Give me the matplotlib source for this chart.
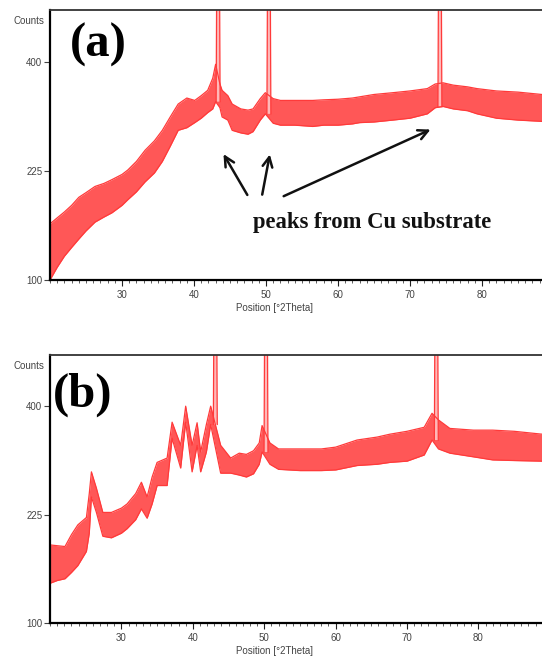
import numpy as np
import matplotlib
matplotlib.use("Agg")
import matplotlib.pyplot as plt
from matplotlib.ticker import FixedLocator, MultipleLocator

# --- data (counts, envelope of the noisy trace) ---
two_theta_a = [20.0, 21.0, 22.0, 23.0, 24.0, 25.0, 26.25, 27.5, 28.6, 30.0,
               30.8, 32.0, 33.2, 34.5, 35.6, 36.7, 37.8, 39.0, 40.1, 41.0,
               41.9, 42.6, 43.0, 43.6, 43.9, 44.7, 45.3, 46.5, 47.5, 48.2,
               49.2, 49.9, 51.0, 52.0, 54.0, 56.5, 58.0, 60.0, 62.0, 63.0,
               65.0, 67.6, 70.0, 72.4, 73.5, 74.6, 76.0, 78.0, 79.3, 82.0,
               85.0, 88.3]
lower_a = [100, 112, 123, 132, 141, 150, 160, 166, 171, 180,
           187, 197, 210, 222, 238, 260, 284, 288, 296, 303,
           312, 318, 330, 320, 305, 300, 284, 280, 278, 282,
           300, 310, 295, 292, 292, 290, 292, 292, 294, 296,
           297, 300, 303, 310, 320, 322, 318, 315, 310, 303,
           300, 298]
upper_a = [158, 165, 172, 180, 190, 196, 204, 208, 213, 220,
           226, 238, 254, 268, 284, 305, 326, 336, 332, 340,
           349, 370, 395, 360, 349, 340, 326, 318, 316, 318,
           335, 345, 335, 332, 332, 332, 333, 334, 336, 338,
           342, 345, 348, 352, 360, 362, 358, 355, 352, 348,
           346, 342]

two_theta_b = [20.0, 21.0, 22.1, 23.0, 23.9, 25.1, 25.5, 25.8, 26.5, 27.4,
               28.6, 30.0, 30.8, 32.0, 32.8, 33.6, 34.3, 35.0, 36.4, 37.1,
               38.3, 39.0, 39.9, 40.6, 41.1, 41.9, 42.5, 43.9, 45.3, 46.5,
               47.5, 48.5, 49.3, 49.7, 50.8, 52.0, 55.0, 58.0, 60.0, 63.0,
               65.8, 67.6, 70.0, 72.4, 73.5, 74.4, 76.0, 79.3, 82.0, 85.0,
               88.9]
lower_b = [140, 143, 145, 152, 160, 177, 200, 250, 228, 196,
           194, 200, 206, 218, 233, 220, 240, 267, 267, 343,
           294, 371, 288, 331, 288, 320, 367, 286, 286, 283,
           280, 285, 300, 320, 300, 292, 290, 290, 291, 298,
           300, 303, 305, 315, 340, 325, 318, 312, 307, 306,
           305]
upper_b = [185, 184, 183, 198, 211, 221, 255, 288, 263, 228,
           228, 234, 240, 255, 272, 250, 280, 303, 310, 371,
           331, 400, 331, 370, 320, 367, 400, 331, 310, 318,
           316, 322, 335, 365, 335, 325, 325, 325, 328, 340,
           345, 350, 355, 362, 387, 375, 360, 357, 357, 355,
           350]

# Cu substrate reflections - they run off the top of the scale
cu_peaks_a = [43.35, 50.4, 74.15]
cu_base_a = [330, 310, 322]
cu_peaks_b = [43.15, 50.25, 74.1]
cu_base_b = [367, 320, 340]
peak_width = 0.55
peak_top = 900

x_ticks = [30, 40, 50, 60, 70, 80]
y_ticks = [100, 225, 400]

RED = "#ff3a3a"
TICK_FONT = "Liberation Sans"
SERIF = "Liberation Serif"

fig = plt.figure(figsize=(5.42, 6.61), dpi=100)


def sqrt_fwd(v):
    return np.sqrt(np.clip(v, 0, None))


def sqrt_inv(v):
    return np.square(v)


def draw_panel(ax, tt, lo, hi, peaks, bases, xmax):
    ax.set_yscale("function", functions=(sqrt_fwd, sqrt_inv))
    ax.fill_between(tt, lo, hi, color=RED, lw=0, alpha=0.85)
    ax.plot(tt, lo, color=RED, lw=0.9)
    ax.plot(tt, hi, color=RED, lw=0.9)
    for p, b in zip(peaks, bases):
        px = [p - peak_width / 2, p - peak_width / 5, p + peak_width / 5, p + peak_width / 2]
        py = [b, peak_top, peak_top, b]
        ax.fill(px, py, color="#ffb8b8", lw=0)
        ax.plot(px, py, color=RED, lw=0.9)

    ax.set_xlim(20, xmax)
    ax.set_ylim(100, 500)
    ax.xaxis.set_major_locator(FixedLocator(x_ticks))
    ax.xaxis.set_minor_locator(MultipleLocator(1))
    ax.yaxis.set_major_locator(FixedLocator(y_ticks))
    ax.yaxis.set_minor_locator(FixedLocator([]))
    ax.set_xticklabels([str(t) for t in x_ticks])
    ax.set_yticklabels([str(t) for t in y_ticks])
    ax.tick_params(axis="x", which="major", direction="out", length=4.5, width=0.8,
                   pad=2.5, labelsize=7, labelcolor="#444444", color="#222222")
    ax.tick_params(axis="x", which="minor", direction="out", length=2, width=0.6,
                   color="#444444")
    ax.tick_params(axis="y", which="major", direction="out", length=4, width=0.8,
                   pad=1.5, labelsize=7, labelcolor="#444444", color="#444444")
    for lab in ax.get_xticklabels() + ax.get_yticklabels():
        lab.set_fontfamily(TICK_FONT)
    ax.spines["right"].set_visible(False)
    ax.spines["left"].set_linewidth(1.6)
    ax.spines["bottom"].set_linewidth(1.6)
    ax.spines["top"].set_linewidth(1.3)
    ax.spines["top"].set_color("#333333")

    ax.text(-0.012, 0.96, "Counts", transform=ax.transAxes, ha="right", va="center",
            fontsize=7, color="#444444", family=TICK_FONT)
    ax.text(0.457, -0.105, "Position [°2Theta]", transform=ax.transAxes, ha="center",
            va="center", fontsize=7, color="#444444", family=TICK_FONT)
    return ax


# panel (a)
ax_a = fig.add_axes([50 / 542, 1 - 280 / 661, 492 / 542, 270 / 661])
draw_panel(ax_a, two_theta_a, lower_a, upper_a, cu_peaks_a, cu_base_a, 88.33)
ax_a.text(0.04, 0.87, "(a)", transform=ax_a.transAxes, ha="left", va="center",
          fontsize=35, fontweight="bold", family=SERIF)

# arrows pointing at the substrate peaks
arrow_kw = dict(arrowstyle="->,head_length=0.7,head_width=0.35", lw=1.8, color="#111111")
ax_a.annotate("", xy=(43.9, 252), xytext=(47.6, 190), arrowprops=arrow_kw)
ax_a.annotate("", xy=(50.6, 252), xytext=(49.4, 190), arrowprops=arrow_kw)
ax_a.annotate("", xy=(73.2, 287), xytext=(52.1, 190), arrowprops=arrow_kw)
ax_a.text(64.7, 160, "peaks from Cu substrate", ha="center", va="center",
          fontsize=16.3, fontweight="bold", family=SERIF, color="#111111")

# panel (b)
ax_b = fig.add_axes([50 / 542, 1 - 623 / 661, 492 / 542, 268 / 661])
draw_panel(ax_b, two_theta_b, lower_b, upper_b, cu_peaks_b, cu_base_b, 88.9)
ax_b.text(0.006, 0.85, "(b)", transform=ax_b.transAxes, ha="left", va="center",
          fontsize=35, fontweight="bold", family=SERIF)

fig.savefig("out.png", dpi=100)
